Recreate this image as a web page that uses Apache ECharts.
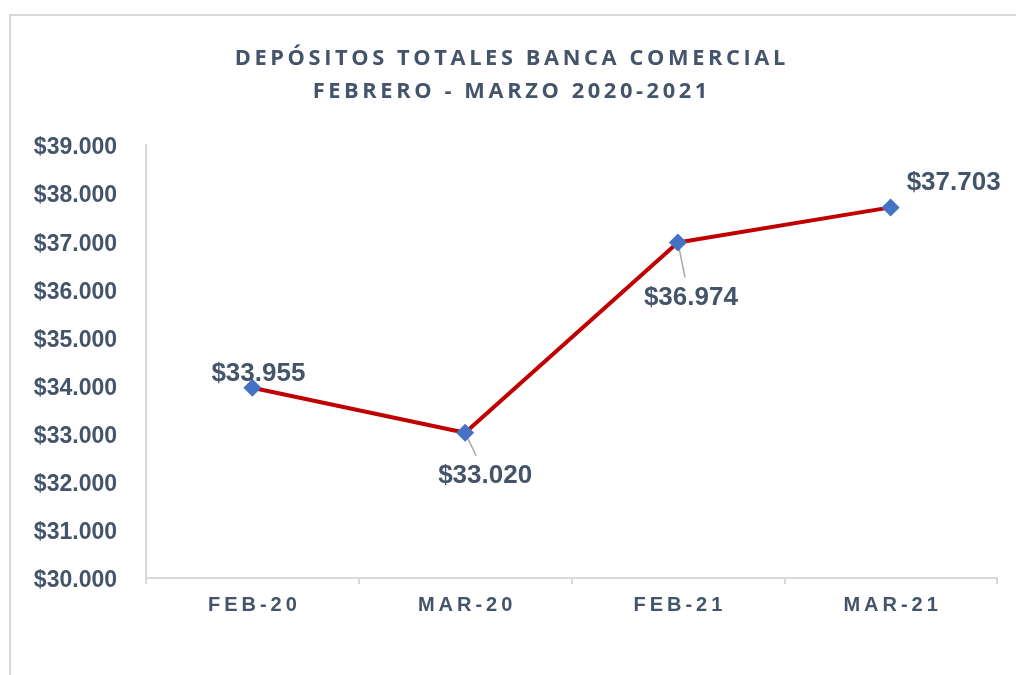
<!DOCTYPE html>
<html>
<head>
<meta charset="utf-8">
<script src="https://cdn.jsdelivr.net/npm/echarts@6/dist/echarts.min.js"></script>
<style>html,body{margin:0;padding:0;background:#fff}#c{width:1016px;height:675px}</style>
</head>
<body>
<div id="c"></div>
<script>
var titleLines = ['DEPÓSITOS TOTALES BANCA COMERCIAL', 'FEBRERO - MARZO 2020-2021'];
var categories = ['FEB-20', 'MAR-20', 'FEB-21', 'MAR-21'];
var depositValues = [33955, 33020, 36974, 37703];
var yTicks = [30000, 31000, 32000, 33000, 34000, 35000, 36000, 37000, 38000, 39000];
// label offsets relative to each point (style only)
var labelOffsets = [[6, -14], [20, 43], [13, 55], [63, -25]];
var leaderShow = [false, true, true, false];

var TXT = '#44546A';
var THIN = '\u2009';
function spaced(s, sep) { return s.split('').join(sep); }
function fmtMoney(v) {
  return '$' + String(v).replace(/\B(?=(\d{3})+(?!\d))/g, '.');
}

var chart = echarts.init(document.getElementById('c'), null, {renderer: 'canvas'});
chart.setOption({
  animation: false,
  backgroundColor: '#fff',
  title: {
    text: titleLines.map(function (l) { return spaced(l, THIN); }).join('\n'),
    top: 37,
    left: 505,
    textAlign: 'center',
    textStyle: {
      fontFamily: 'Open Sans', fontWeight: 'bold', fontSize: 21.8, color: TXT, lineHeight: 33
    }
  },
  grid: {left: 146, right: 19, top: 145, bottom: 97, containLabel: false},
  xAxis: {
    type: 'category',
    data: categories,
    boundaryGap: true,
    axisLine: {lineStyle: {color: '#d9d9d9', width: 2}},
    axisTick: {show: true, length: 6, lineStyle: {color: '#d9d9d9', width: 2}},
    axisLabel: {
      margin: 17,
      fontFamily: 'Liberation Sans', fontWeight: 'bold', fontSize: 20, color: TXT,
      formatter: function (v) { return spaced(v, THIN); }
    },
    splitLine: {show: false}
  },
  yAxis: {
    type: 'value',
    min: yTicks[0], max: yTicks[yTicks.length - 1], interval: yTicks[1] - yTicks[0],
    axisLine: {show: true, lineStyle: {color: '#d9d9d9', width: 2}},
    axisTick: {show: false},
    splitLine: {show: false},
    axisLabel: {
      margin: 29,
      formatter: function (v) { return '{v|' + fmtMoney(v) + '}'; },
      rich: {
        v: {
          fontFamily: 'Liberation Sans', fontWeight: 'bold', fontSize: 23, color: TXT,
          padding: [6, 0, 0, 0]
        }
      }
    }
  },
  series: [{
    type: 'line',
    data: depositValues.map(function (v, i) {
      return {
        value: v,
        label: {offset: labelOffsets[i]}
      };
    }),
    lineStyle: {color: '#C00000', width: 4},
    symbol: 'diamond',
    symbolSize: 18,
    itemStyle: {color: '#4472C4'},
    z: 3,
    label: {
      show: true,
      position: 'inside',
      align: 'center',
      verticalAlign: 'middle',
      fontFamily: 'Liberation Sans', fontWeight: 'bold', fontSize: 26, color: TXT,
      formatter: function (p) { return fmtMoney(p.value); }
    }
  }]
});

// leader lines and chart border computed from the library's coordinate system
var graphics = [{
  type: 'rect', silent: true, z: -1,
  shape: {x: 10, y: 15, width: 1200, height: 900},
  style: {fill: 'none', stroke: '#d9d9d9', lineWidth: 2}
}];
depositValues.forEach(function (v, i) {
  if (!leaderShow[i]) return;
  var p = chart.convertToPixel({seriesIndex: 0}, [i, v]);
  var off = labelOffsets[i];
  var ex = p[0] + off[0] * 0.55, ey = p[1] + off[1] - 20;
  graphics.push({
    type: 'line', silent: true, z: 2,
    shape: {x1: p[0], y1: p[1], x2: ex, y2: ey},
    style: {stroke: '#a6a6a6', lineWidth: 1.5}
  });
});
chart.setOption({graphic: graphics});
</script>
</body>
</html>
